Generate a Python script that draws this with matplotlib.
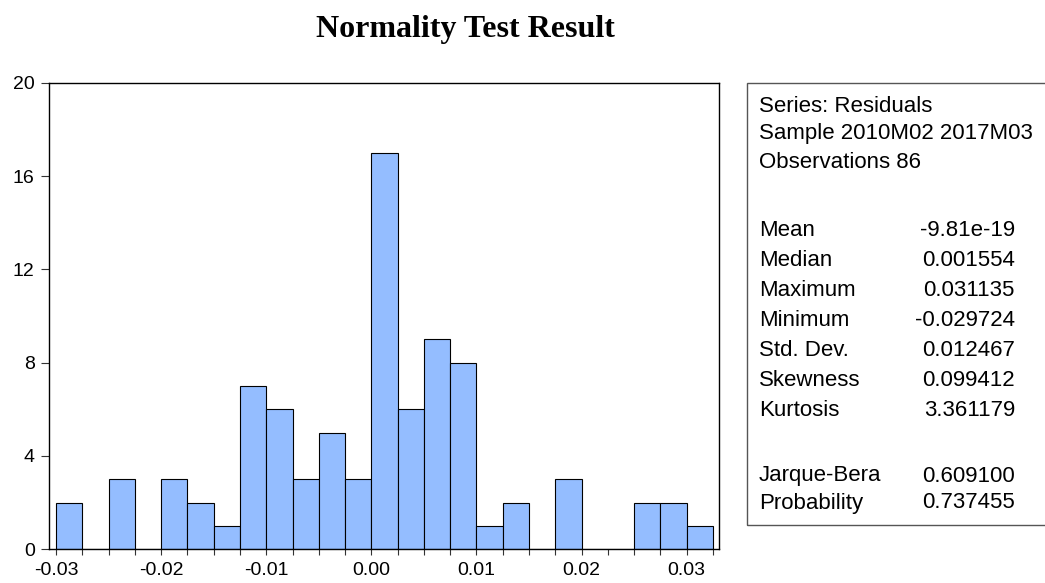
import numpy as np
import matplotlib
matplotlib.use("Agg")
import matplotlib.pyplot as plt
from matplotlib.patches import Rectangle

# residual histogram, bins of 0.0025 starting at -0.03
bin_edges = np.round(np.arange(26) * 0.0025 - 0.03, 6)
counts = [2, 0, 3, 0, 3, 2, 1, 7, 6, 3, 5, 3, 17, 6, 9, 8, 1, 2, 0, 3, 0, 0, 2, 2, 1]
xticks = [-0.03, -0.02, -0.01, 0.00, 0.01, 0.02, 0.03]
xlabels = ["-0.03", "-0.02", "-0.01", "0.00", "0.01", "0.02", "0.03"]
yticks = [0, 4, 8, 12, 16, 20]

stats_head = ["Series: Residuals", "Sample 2010M02 2017M03", "Observations 86"]
stat_names = ["Mean", "Median", "Maximum", "Minimum", "Std. Dev.",
              "Skewness", "Kurtosis", "Jarque-Bera", "Probability"]
stat_vals = ["-9.81e-19", "0.001554", "0.031135", "-0.029724", "0.012467",
             "0.099412", "3.361179", "0.609100", "0.737455"]

plt.rcParams["font.family"] = ["Liberation Sans", "DejaVu Sans"]

W, H = 1045, 583
fig = plt.figure(figsize=(W / 100, H / 100), dpi=100)
ax = fig.add_axes([49.3 / W, 1 - 549.3 / H, (719.3 - 49.3) / W, (549.3 - 82.7) / H])

ax.bar(bin_edges[:-1], counts, width=np.diff(bin_edges), align="edge",
       color="#94bdff", edgecolor="black", linewidth=0.8)
ax.set_xlim(-0.03064, 0.0331)
ax.set_ylim(0, 20)
ax.set_xticks(xticks)
ax.set_xticklabels(xlabels)
ax.set_xticks(bin_edges, minor=True)
ax.set_yticks(yticks)
ax.tick_params(axis="x", which="both", length=4.2, width=0.8, pad=5, labelsize=14, color="#333333")
ax.tick_params(axis="y", length=6, width=0.8, pad=4.5, labelsize=14, color="#333333")
for s in ax.spines.values():
    s.set_linewidth(1.0)

fig.text(465 / W, 1 - 30 / H, "Normality Test Result", ha="center", va="center",
         fontsize=23, fontweight="bold", family=["Liberation Serif", "DejaVu Serif"])

# stats box
fig.patches.append(Rectangle((746.7 / W, 1 - 525 / H), (1060 - 746.7) / W,
                             (525 - 82.7) / H, transform=fig.transFigure,
                             fill=False, edgecolor="#555555", linewidth=1.0))
head_y = [106, 134, 162]
for t, y in zip(stats_head, head_y):
    fig.text(759 / W, 1 - y / H, t, ha="left", va="center", fontsize=16)
row_y = [231, 260, 290, 320, 351, 381, 411, 476, 503]
for name, val, y in zip(stat_names, stat_vals, row_y):
    fig.text(759 / W, 1 - y / H, name, ha="left", va="center", fontsize=16)
    fig.text(1015 / W, 1 - y / H, val, ha="right", va="center", fontsize=16)

fig.savefig("out.png", dpi=100)
